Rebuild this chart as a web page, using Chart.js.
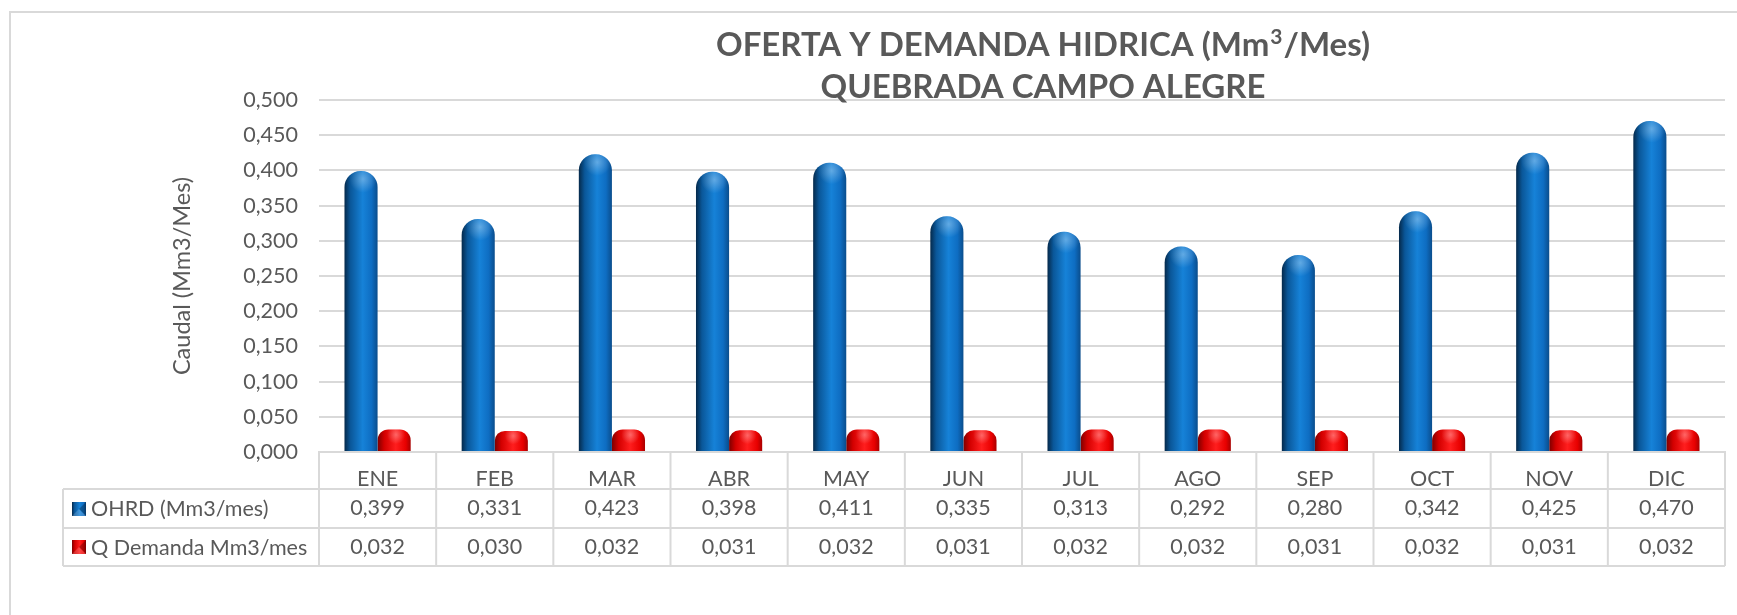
<!DOCTYPE html>
<html lang="es">
<head>
<meta charset="utf-8">
<title>Oferta y demanda hídrica - Quebrada Campo Alegre</title>
<script src="https://cdn.jsdelivr.net/npm/chart.js@4.4.1/dist/chart.umd.min.js"></script>
<style>
  html, body { margin: 0; padding: 0; background: #ffffff; }
  #wrap { width: 1737px; height: 615px; position: relative; }
</style>
</head>
<body>
<div id="wrap"><canvas id="grafico" width="1737" height="615"></canvas></div>
<script>
// Meses y caudales mensuales (Mm3/mes)
const MESES = ['ENE', 'FEB', 'MAR', 'ABR', 'MAY', 'JUN', 'JUL', 'AGO', 'SEP', 'OCT', 'NOV', 'DIC'];
const OHRD = [0.399, 0.331, 0.423, 0.398, 0.411, 0.335, 0.313, 0.292, 0.280, 0.342, 0.425, 0.470];
const DEMANDA = [0.032, 0.030, 0.032, 0.031, 0.032, 0.031, 0.032, 0.032, 0.031, 0.032, 0.031, 0.032];
const SERIES = ['OHRD (Mm3/mes)', 'Q Demanda Mm3/mes'];
// Primera línea del título en tramos: texto, superíndice, texto
const TITULO_1 = ['OFERTA Y DEMANDA HIDRICA (Mm', '3', '/Mes)'];
const TITULO_2 = 'QUEBRADA CAMPO ALEGRE';
const EJE_Y = 'Caudal (Mm3/Mes)';
const Y_MIN = 0, Y_MAX = 0.5, Y_PASO = 0.05;

const FUENTE = 'Lato, "Noto Sans", sans-serif';
const GRIS_TEXTO = '#595959';
const GRIS_LINEA = '#d9d9d9';
const GRUPO = 0.565;           // fracción de la categoría ocupada por las dos barras

// Degradados horizontales que dan el aspecto de cilindro
const TONOS = [
  [[0, '#05294a'], [0.18, '#0a5799'], [0.55, '#1682d8'], [0.82, '#0e6dc2'], [1, '#0a4d8c']],
  [[0, '#7d0000'], [0.2, '#d30000'], [0.55, '#ff1e1e'], [0.85, '#e80000'], [1, '#a80000']]
];
const BASE = ['#0e6cc0', '#e80000'];

const fmt = v => v.toFixed(3).replace('.', ',');

function relleno(serie) {
  return (c) => {
    const chart = c.chart;
    const xs = chart.scales.x;
    if (!xs || c.dataIndex === undefined || !xs.width) return BASE[serie];
    const catW = xs.width / MESES.length;
    const barW = catW * GRUPO / 2;
    const cx = xs.getPixelForValue(c.dataIndex) + (serie === 0 ? -barW / 2 : barW / 2);
    const g = chart.ctx.createLinearGradient(cx - barW / 2, 0, cx + barW / 2, 0);
    TONOS[serie].forEach(([o, col]) => g.addColorStop(o, col));
    return g;
  };
}

// Fondo y marco exterior
const marco = {
  id: 'marco',
  beforeDraw(chart) {
    const ctx = chart.ctx;
    ctx.save();
    ctx.fillStyle = '#ffffff';
    ctx.fillRect(0, 0, chart.width, chart.height);
    ctx.strokeStyle = GRIS_LINEA;
    ctx.lineWidth = 2;
    ctx.strokeRect(10, 12, chart.width + 50, chart.height + 50);
    ctx.restore();
  }
};

// Título en dos líneas, con el exponente de Mm3 elevado
const titulo = {
  id: 'titulo',
  afterDraw(chart) {
    const ctx = chart.ctx;
    const cx = 1043;
    const normal = 'bold 33px ' + FUENTE;
    const sup = 'bold 21px ' + FUENTE;
    ctx.save();
    ctx.fillStyle = GRIS_TEXTO;
    ctx.textBaseline = 'alphabetic';
    ctx.textAlign = 'left';
    ctx.font = normal; const w0 = ctx.measureText(TITULO_1[0]).width;
    ctx.font = sup; const w1 = ctx.measureText(TITULO_1[1]).width + 2;
    ctx.font = normal; const w2 = ctx.measureText(TITULO_1[2]).width;
    let x = cx - (w0 + w1 + w2) / 2;
    const base = 56;
    ctx.font = normal; ctx.fillText(TITULO_1[0], x, base); x += w0 + 1;
    ctx.font = sup; ctx.fillText(TITULO_1[1], x, base - 12); x += w1 - 1;
    ctx.font = normal; ctx.fillText(TITULO_1[2], x, base);
    ctx.textAlign = 'center';
    ctx.textBaseline = 'middle';
    ctx.fillText(TITULO_2, cx, 87);
    ctx.restore();
  }
};

// Brillo en la tapa redondeada de cada barra
const brillo = {
  id: 'brillo',
  afterDatasetsDraw(chart) {
    const ctx = chart.ctx;
    chart.data.datasets.forEach((ds, i) => {
      chart.getDatasetMeta(i).data.forEach(el => {
        const w = el.width, h = el.base - el.y;
        if (!(w > 0 && h > 0)) return;
        const r = Math.min(w / 2, h / 2, 16);
        const left = el.x - w / 2;
        ctx.save();
        ctx.beginPath();
        ctx.roundRect(left, el.y, w, h, [r, r, 0, 0]);
        ctx.clip();
        const gx = el.x + w * 0.06, gy = el.y + r * 0.5;
        const g = ctx.createRadialGradient(gx, gy, 0, gx, gy, r * 0.85);
        g.addColorStop(0, 'rgba(255,255,255,0.32)');
        g.addColorStop(1, 'rgba(255,255,255,0)');
        ctx.fillStyle = g;
        ctx.fillRect(left, el.y, w, r * 2);
        ctx.restore();
      });
    });
  }
};

// Tabla de datos bajo el eje de categorías
const tabla = {
  id: 'tabla',
  afterDraw(chart) {
    const ctx = chart.ctx;
    const xs = chart.scales.x;
    const izq = xs.left, der = xs.right;
    const colW = (der - izq) / MESES.length;
    const leyIzq = 63;
    const y0 = chart.chartArea.bottom;
    const filas = [y0, y0 + 37, y0 + 76, y0 + 114];
    ctx.save();
    ctx.strokeStyle = GRIS_LINEA;
    ctx.lineWidth = 2;
    ctx.beginPath();
    // líneas horizontales
    ctx.moveTo(izq, filas[0]); ctx.lineTo(der, filas[0]);
    for (let k = 1; k < filas.length; k++) { ctx.moveTo(leyIzq, filas[k]); ctx.lineTo(der, filas[k]); }
    // líneas verticales
    for (let k = 0; k <= MESES.length; k++) {
      const x = izq + k * colW;
      ctx.moveTo(x, filas[0]); ctx.lineTo(x, filas[3]);
    }
    ctx.moveTo(leyIzq, filas[1]); ctx.lineTo(leyIzq, filas[3]);
    ctx.stroke();

    ctx.fillStyle = GRIS_TEXTO;
    ctx.font = '21.5px ' + FUENTE;
    ctx.textBaseline = 'middle';
    ctx.textAlign = 'center';
    const valores = [OHRD, DEMANDA];
    valores.forEach((serie, s) => {
      const yc = (filas[s + 1] + filas[s + 2]) / 2;
      serie.forEach((v, i) => ctx.fillText(fmt(v), xs.getPixelForValue(i), yc));
    });

    // claves de leyenda
    ctx.textAlign = 'left';
    SERIES.forEach((nombre, s) => {
      const yc = (filas[s + 1] + filas[s + 2]) / 2;
      const kx = 72, ky = Math.round(yc - 7), k = 14;
      const g = ctx.createLinearGradient(kx, 0, kx + k, 0);
      TONOS[s].forEach(([o, col]) => g.addColorStop(o, col));
      ctx.fillStyle = g;
      ctx.fillRect(kx, ky, k, k);
      // bisel
      ctx.fillStyle = 'rgba(0,0,0,0.28)';
      ctx.beginPath();
      ctx.moveTo(kx + k, ky); ctx.lineTo(kx + k, ky + k); ctx.lineTo(kx + k / 2, ky + k / 2); ctx.closePath();
      ctx.fill();
      ctx.fillStyle = 'rgba(255,255,255,0.18)';
      ctx.beginPath();
      ctx.moveTo(kx, ky + k); ctx.lineTo(kx + k, ky + k); ctx.lineTo(kx + k / 2, ky + k / 2); ctx.closePath();
      ctx.fill();
      ctx.fillStyle = GRIS_TEXTO;
      ctx.fillText(nombre, 91, yc + 1);
    });
    ctx.restore();
  }
};

new Chart(document.getElementById('grafico'), {
  type: 'bar',
  data: {
    labels: MESES,
    datasets: [
      { label: SERIES[0], data: OHRD, backgroundColor: relleno(0) },
      { label: SERIES[1], data: DEMANDA, backgroundColor: relleno(1) }
    ]
  },
  options: {
    responsive: false,
    animation: false,
    devicePixelRatio: 1,
    layout: { padding: { top: 100, right: 12, bottom: 0, left: 0 } },
    datasets: {
      bar: {
        categoryPercentage: GRUPO,
        barPercentage: 1,
        borderRadius: { topLeft: 16, topRight: 16, bottomLeft: 0, bottomRight: 0 },
        borderSkipped: 'start'
      }
    },
    plugins: {
      legend: { display: false },
      title: { display: false },
      tooltip: { enabled: false }
    },
    scales: {
      x: {
        grid: { display: false },
        border: { display: true, color: GRIS_LINEA, width: 2 },
        ticks: { color: GRIS_TEXTO, font: { family: FUENTE, size: 21.5 }, padding: 6, maxRotation: 0 },
        afterFit(scale) { scale.height = 163; }
      },
      y: {
        min: Y_MIN,
        max: Y_MAX,
        grid: { color: GRIS_LINEA, lineWidth: 2, drawTicks: false },
        border: { display: false },
        ticks: {
          stepSize: Y_PASO,
          padding: 21,
          color: GRIS_TEXTO,
          font: { family: FUENTE, size: 21.5 },
          callback: v => fmt(v)
        },
        title: {
          display: true,
          text: EJE_Y,
          color: GRIS_TEXTO,
          font: { family: FUENTE, size: 23.5 },
          padding: { top: 168, bottom: 0 }
        },
        afterFit(scale) { scale.width = 319; }
      }
    }
  },
  plugins: [marco, brillo, tabla, titulo]
});
</script>
</body>
</html>
